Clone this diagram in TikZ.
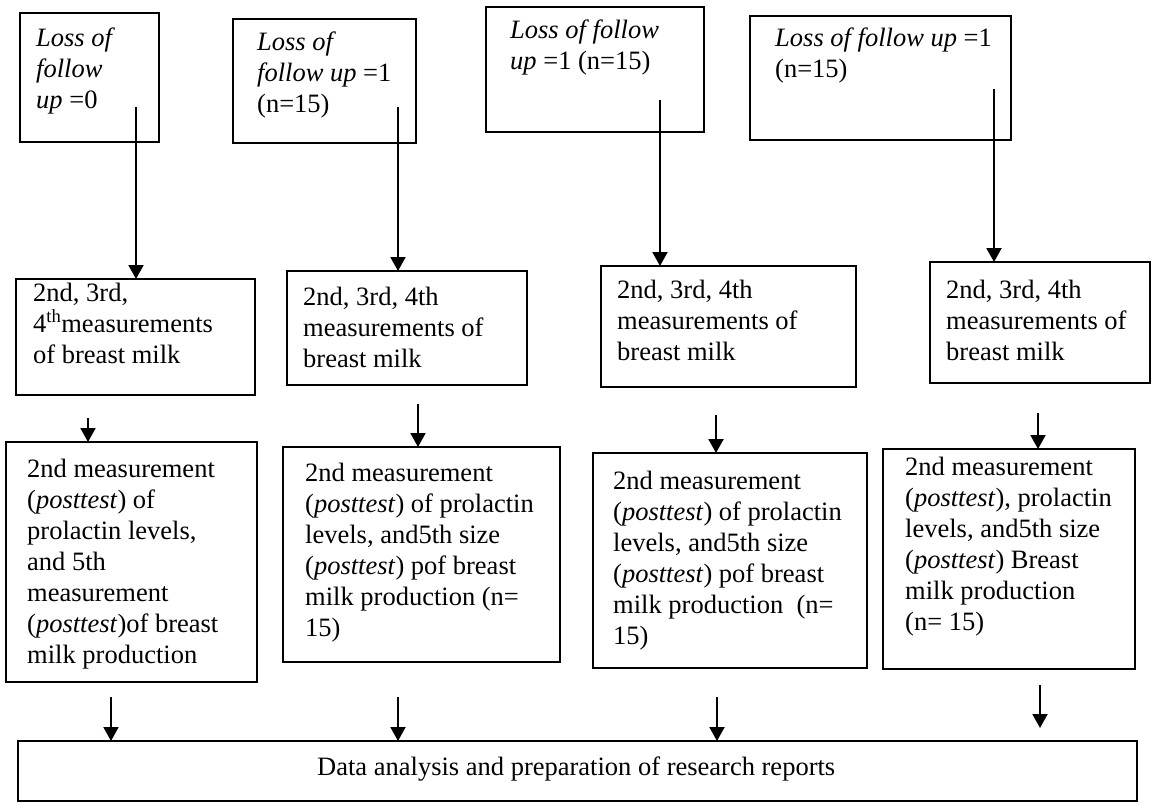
\documentclass[tikz,border=0pt]{standalone}
\usepackage{fontspec}
\setmainfont{Liberation Serif}
\usetikzlibrary{arrows.meta}
\tikzset{
  box/.style={draw=black, line width=1.5pt, anchor=north west, inner sep=0pt, outer sep=0pt, fill=white},
  txt/.style={anchor=base west, align=left, inner sep=0pt, font=\fontsize{26.5}{31}\selectfont},
  arr/.style={line width=2pt, -{Triangle[width=15pt,length=14pt]}},
}
\begin{document}
\begin{tikzpicture}[x=1pt,y=-1pt]
\useasboundingbox[fill=white] (0,0) rectangle (1168,804);
% top row
\node[box, minimum width=139pt, minimum height=129pt] (a1) at (20,13) {};
\node[box, minimum width=183pt, minimum height=124pt] (b1) at (233,19) {};
\node[box, minimum width=218pt, minimum height=125pt] (c1) at (486,7) {};
\node[box, minimum width=261pt, minimum height=124pt] (d1) at (750,16) {};
% middle row
\node[box, minimum width=239pt, minimum height=116pt] (a2) at (16,279) {};
\node[box, minimum width=240pt, minimum height=114pt] (b2) at (287,271) {};
\node[box, minimum width=255pt, minimum height=121pt] (c2) at (601,266) {};
\node[box, minimum width=220pt, minimum height=121pt] (d2) at (930,262) {};
% third row
\node[box, minimum width=251pt, minimum height=240pt] (a3) at (6,442) {};
\node[box, minimum width=277pt, minimum height=215pt] (b3) at (283,447) {};
\node[box, minimum width=274pt, minimum height=215pt] (c3) at (593,453) {};
\node[box, minimum width=252pt, minimum height=220pt] (d3) at (883,449) {};
% bottom
\node[box, minimum width=1119pt, minimum height=60pt] (e) at (18,741) {};

% texts (anchor = baseline of the last line)
\node[txt] (ta1) at (36,108) {\textit{Loss of}\\\textit{follow}\\\textit{up} =0};
\node[txt] (tb1) at (257,112) {\textit{Loss of}\\\textit{follow up} =1\\(n=15)};
\node[txt] (tc1) at (510,69) {\textit{Loss of follow}\\\textit{up} =1 (n=15)};
\node[txt] (td1) at (775,77) {\textit{Loss of follow up} =1\\(n=15)};

\node[txt] (ta2) at (33,363) {2nd, 3rd,\\4\textsuperscript{th}measurements\\of breast milk};
\node[txt] (tb2) at (303,367) {2nd, 3rd, 4th\\measurements of\\breast milk};
\node[txt] (tc2) at (617,360) {2nd, 3rd, 4th\\measurements of\\breast milk};
\node[txt] (td2) at (946,360) {2nd, 3rd, 4th\\measurements of\\breast milk};

\node[txt] (ta3) at (27,663) {2nd measurement\\(\textit{posttest}) of\\prolactin levels,\\and 5th\\measurement\\(\textit{posttest})of breast\\milk production};
\node[txt] (tb3) at (305,636) {2nd measurement\\(\textit{posttest}) of prolactin\\levels, and5th size\\(\textit{posttest}) pof breast\\milk production (n=\\15)};
\node[txt] (tc3) at (613,644) {2nd measurement\\(\textit{posttest}) of prolactin\\levels, and5th size\\(\textit{posttest}) pof breast\\milk production~ (n=\\15)};
\node[txt] (td3) at (905,630) {2nd measurement\\(\textit{posttest}), prolactin\\levels, and5th size\\(\textit{posttest}) Breast\\milk production\\(n= 15)};

\node[txt] (te) at (317,775) {Data analysis and preparation of research reports};

% arrow start points
\coordinate (sa1) at (136,107);
\coordinate (sb1) at (398,107);
\coordinate (sc1) at (660,100);
\coordinate (sd1) at (994,89);
\coordinate (sa2) at (88,418);
\coordinate (sb2) at (418,404);
\coordinate (sc2) at (716,415);
\coordinate (sd2) at (1038,413);
\coordinate (sa3) at (111,697);
\coordinate (sb3) at (398,697);
\coordinate (sc3) at (717,697);
\coordinate (sd3) at (1040,685);
\coordinate (ed3) at (1040,728);

\draw[arr] (sa1) -- (sa1 |- a2.north);
\draw[arr] (sb1) -- (sb1 |- b2.north);
\draw[arr] (sc1) -- (sc1 |- c2.north);
\draw[arr] (sd1) -- (sd1 |- d2.north);
\draw[arr] (sa2) -- (sa2 |- a3.north);
\draw[arr] (sb2) -- (sb2 |- b3.north);
\draw[arr] (sc2) -- (sc2 |- c3.north);
\draw[arr] (sd2) -- (sd2 |- d3.north);
\draw[arr] (sa3) -- (sa3 |- e.north);
\draw[arr] (sb3) -- (sb3 |- e.north);
\draw[arr] (sc3) -- (sc3 |- e.north);
\draw[arr] (sd3) -- (ed3);
\end{tikzpicture}
\end{document}
